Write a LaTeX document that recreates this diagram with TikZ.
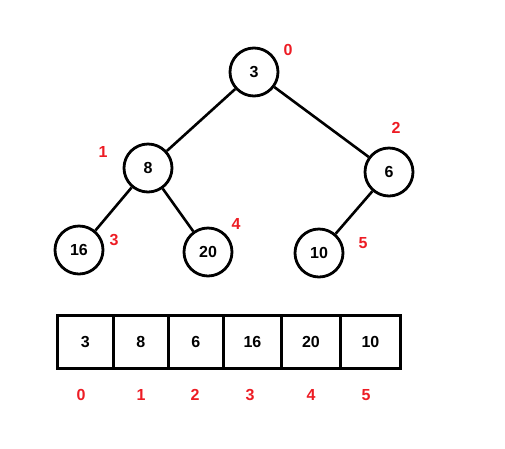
\documentclass[tikz,border=0pt]{standalone}
\usepackage{fontspec}
\setmainfont{Liberation Sans}
\definecolor{idxred}{RGB}{237,28,36}
\begin{document}
\begin{tikzpicture}[x=1pt,y=-1pt,
  heapnode/.style={circle,draw=black,line width=2.8pt,minimum size=48pt,inner sep=0pt,font=\fontsize{16}{16}\selectfont\bfseries},
  edge/.style={draw=black,line width=2.6pt},
  idx/.style={text=idxred,font=\fontsize{16}{16}\selectfont\bfseries,inner sep=0pt},
  cell/.style={draw=black,line width=2.8pt,minimum height=53pt,inner sep=0pt,font=\fontsize{16}{16}\selectfont\bfseries,anchor=west}]
\useasboundingbox (0,0) rectangle (505,448);
\node[heapnode] (n0) at (254,72) {3};
\node[heapnode] (n1) at (148,168) {8};
\node[heapnode] (n2) at (389,172) {6};
\node[heapnode] (n3) at (79,250) {16};
\node[heapnode] (n4) at (208,252) {20};
\node[heapnode] (n5) at (319,253) {10};
\draw[edge] (n0) -- (n1);
\draw[edge] (n0) -- (n2);
\draw[edge] (n1) -- (n3);
\draw[edge] (n1) -- (n4);
\draw[edge] (n2) -- (n5);
\node[idx] (l0) at (288,50) {0};
\node[idx] (l1) at (103,152) {1};
\node[idx] (l2) at (396,128) {2};
\node[idx] (l3) at (114,240) {3};
\node[idx] (l4) at (236,224) {4};
\node[idx] (l5) at (363,243) {5};
\node[cell,minimum width=56pt] (c0) at (56,342) {3};
\node[cell,minimum width=55pt] (c1) at (112,342) {8};
\node[cell,minimum width=55pt] (c2) at (167,342) {6};
\node[cell,minimum width=58pt] (c3) at (222,342) {16};
\node[cell,minimum width=59pt] (c4) at (280,342) {20};
\node[cell,minimum width=60pt] (c5) at (339,342) {10};
\node[idx] (a0) at (81,395) {0};
\node[idx] (a1) at (141,395) {1};
\node[idx] (a2) at (195,395) {2};
\node[idx] (a3) at (250,395) {3};
\node[idx] (a4) at (311,395) {4};
\node[idx] (a5) at (366,395) {5};
\end{tikzpicture}
\end{document}
